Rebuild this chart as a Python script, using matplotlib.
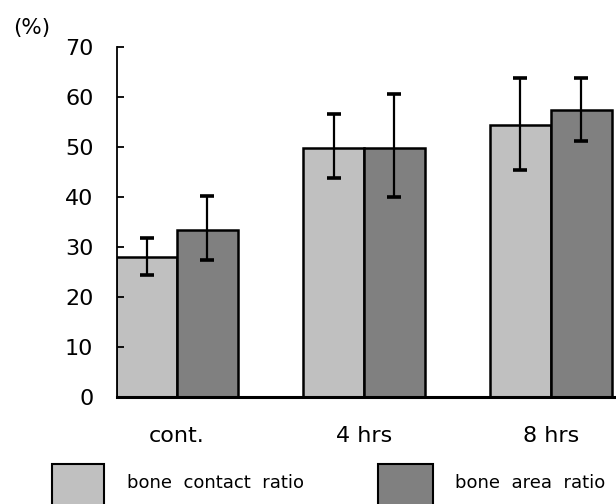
import numpy as np
import matplotlib
matplotlib.use("Agg")
import matplotlib.pyplot as plt
from matplotlib.patches import Rectangle

# values (%)
groups = ["cont.", "4 hrs", "8 hrs"]
contact_mean = [28.0, 49.7, 54.3]
contact_low = [24.4, 43.7, 45.3]
contact_high = [31.8, 56.5, 63.7]
area_mean = [33.4, 49.7, 57.4]
area_low = [27.3, 39.9, 51.1]
area_high = [40.2, 60.6, 63.7]

LIGHT = "#c0c0c0"
DARK = "#808080"

plt.rcParams["font.family"] = "DejaVu Sans"

fig = plt.figure(figsize=(6.16, 5.04), dpi=100)
ax = fig.add_axes([117 / 616, 1 - 397 / 504, 1 - 117 / 616, (397 - 46.7) / 504])

x = np.arange(len(groups))
w = 0.326

def err(mean, low, high):
    mean = np.array(mean)
    return [mean - np.array(low), np.array(high) - mean]

ekw = dict(elinewidth=1.6, capthick=2.6, ecolor="black")
ax.bar(x - w / 2, contact_mean, w, yerr=err(contact_mean, contact_low, contact_high),
       color=LIGHT, edgecolor="black", linewidth=1.8, capsize=5, error_kw=ekw)
ax.bar(x + w / 2, area_mean, w, yerr=err(area_mean, area_low, area_high),
       color=DARK, edgecolor="black", linewidth=1.8, capsize=5, error_kw=ekw)

ax.set_xlim(-0.321, 2.348)
ax.set_ylim(0, 70)
ax.set_yticks(range(0, 71, 10))
ax.set_xticks(x)
ax.set_xticklabels(groups)

for s in ["top", "right"]:
    ax.spines[s].set_visible(False)
ax.spines["bottom"].set_linewidth(2.2)
ax.spines["left"].set_linewidth(1.3)

ax.tick_params(axis="y", direction="in", length=5, width=1.3, pad=17, labelsize=16)
ax.tick_params(axis="x", length=0, pad=21, labelsize=16)

fig.text(13 / 616, 1 - 28 / 504, "(%)", ha="left", va="center", fontsize=15.5)

# legend boxes under the axis (cut by the figure edge like the original)
for x0, wpx, col, lab, tx in [(52, 52, LIGHT, "bone  contact  ratio", 127),
                               (378, 55, DARK, "bone  area  ratio", 455)]:
    fig.add_artist(Rectangle((x0 / 616, 1 - 516 / 504), wpx / 616, 52 / 504,
                             transform=fig.transFigure, facecolor=col,
                             edgecolor="black", linewidth=1.5))
    fig.text(tx / 616, 1 - 483 / 504, lab, ha="left", va="center", fontsize=13)

fig.savefig("out.png", dpi=100)
